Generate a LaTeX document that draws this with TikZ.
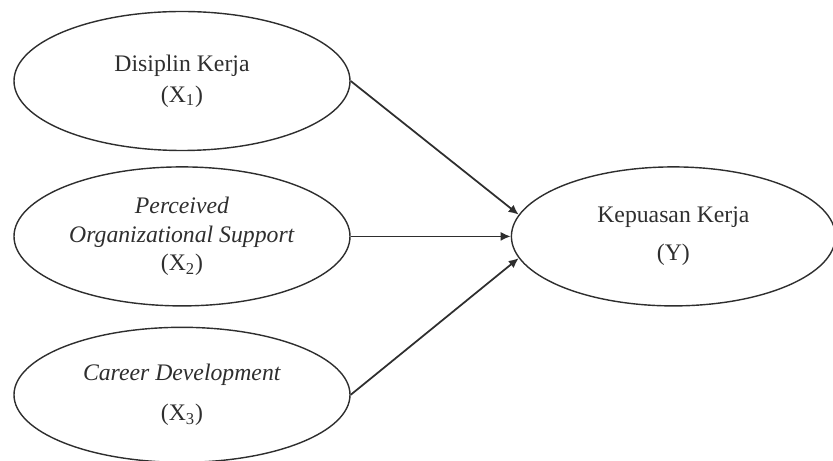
\documentclass[tikz,border=0pt]{standalone}
\usepackage{fontspec}
\setmainfont{Liberation Serif}
\usetikzlibrary{arrows.meta,positioning,shapes.geometric}
\definecolor{LineGray}{HTML}{2E2E2E}

\begin{document}
\begin{tikzpicture}[
      font=\fontsize{13.5}{16}\selectfont,
      var/.style={ellipse,draw=LineGray,line width=0.8pt,inner sep=0pt,minimum width=6.72cm,minimum height=2.78cm,align=center,text=LineGray},
      path/.style={draw=LineGray,line width=1pt,-{Latex[length=2mm,width=1.8mm]}}
    ]
      \useasboundingbox (0,0) rectangle (16.66,-9.22);
      \node[var] (x1) at (3.64,-1.62) {Disiplin Kerja\\[1.5pt](X\textsubscript{1})};
      \node[var,below=0.3cm of x1] (x2) {\textit{Perceived}\\[0.4pt]\textit{Organizational Support}\\[0.4pt](X\textsubscript{2})};
      \node[var,below=0.4cm of x2,minimum height=2.7cm] (x3) {\textit{Career Development}\\[6.7pt](X\textsubscript{3})};
      \node[var,right=3.2cm of x2,minimum width=6.48cm] (y) {Kepuasan Kerja\\[5.5pt](Y)};
      \draw[path] (x1.east) -- (y.172);
      \draw[path] (x2.east) -- (y.west);
      \draw[path] (x3.east) -- (y.188);
    \end{tikzpicture}
\end{document}
